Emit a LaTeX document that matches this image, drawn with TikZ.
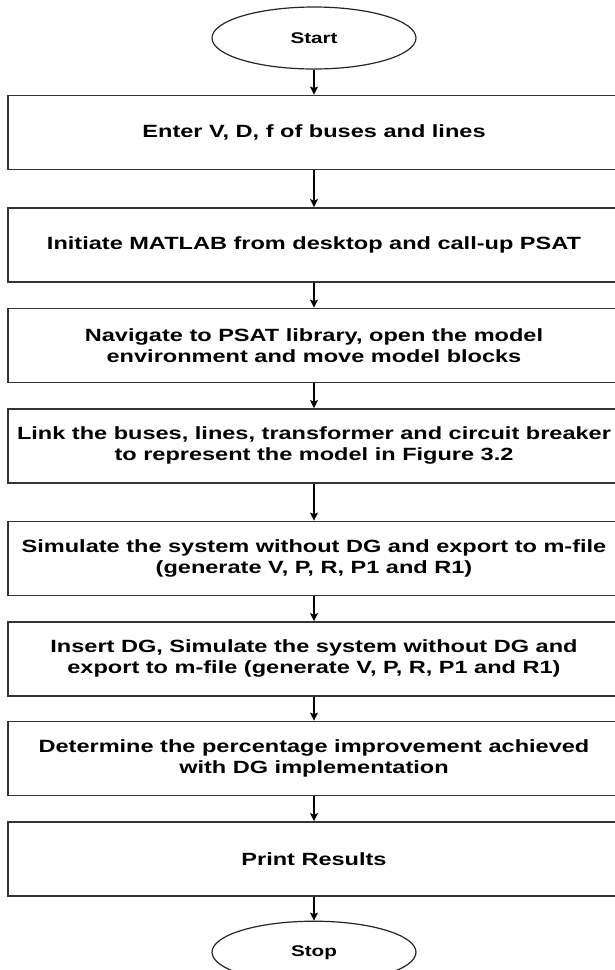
\documentclass[tikz,border=0pt]{standalone}
\usepackage{fontspec}
\setmainfont{Liberation Sans}[FakeStretch=1.33]
\usepackage{tikz}
\usetikzlibrary{shapes.geometric, arrows.meta, positioning}
\tikzset{every node/.append style={align=center, inner sep=0pt}}

\begin{document}
\begin{tikzpicture}[x=1pt, y=1pt, node distance=25pt,
    font=\fontsize{17.7pt}{21pt}\selectfont\bfseries,
    term/.style={ellipse, draw=black!85, line width=1.2pt, fill=white, minimum width=204pt, minimum height=62pt, font=\fontsize{15.5pt}{18pt}\selectfont\bfseries},
    proc/.style={rectangle, draw=black!80, line width=1.5pt, fill=white, minimum width=612pt, minimum height=74pt},
    a/.style={-{Stealth[length=8pt, width=8pt, inset=1.5pt]}, line width=1.2pt, black}]
\useasboundingbox (0,0) rectangle (615,-970);
\node[term] (start) at (314,-38) {Start};
\node[proc, below=of start] (enter) {Enter V, D, f of buses and lines};
\node[proc, below=37pt of enter] (init) {Initiate MATLAB from desktop and call-up PSAT};
\node[proc, below=of init] (nav) {Navigate to PSAT library, open the model\\environment and move model blocks};
\node[proc, below=of nav] (link) {Link the buses, lines, transformer and circuit breaker\\to represent the model in Figure 3.2};
\node[proc, below=37pt of link] (sim) {Simulate the system without DG and export to m-file\\(generate V, P, R, P1 and R1)};
\node[proc, below=of sim] (simdg) {Insert DG, Simulate the system without DG and\\export to m-file (generate V, P, R, P1 and R1)};
\node[proc, below=24pt of simdg] (det) {Determine the percentage improvement achieved\\with DG implementation};
\node[proc, below=of det] (print) {Print Results};
\node[term, below=24pt of print] (stop) {Stop};
\draw[a] (start) -- (enter);
\draw[a] (enter) -- (init);
\draw[a] (init) -- (nav);
\draw[a] (nav) -- (link);
\draw[a] (link) -- (sim);
\draw[a] (sim) -- (simdg);
\draw[a] (simdg) -- (det);
\draw[a] (det) -- (print);
\draw[a] (print) -- (stop);
\end{tikzpicture}
\end{document}
